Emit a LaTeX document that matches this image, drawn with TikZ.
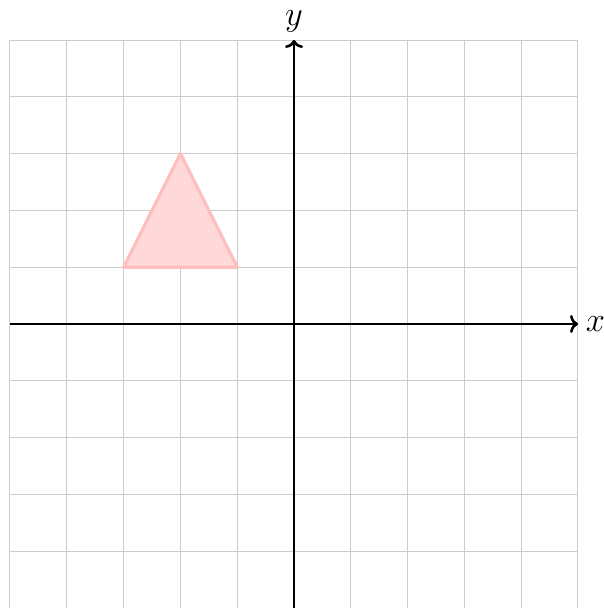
\documentclass[tikz,border=0pt]{standalone}
\usepackage{amsmath,amssymb}
\usepackage{tikz}
\usetikzlibrary{arrows.meta}

\begin{document}
\begin{tikzpicture}[
  gridline/.style={line width=0.5pt, draw=black!20},
  axis/.style={line width=1.3pt, -{To[length=4pt,width=9pt]}},
  lbl/.style={font=\LARGE},
  tri/.style={draw=red!25, fill=red!15, line width=1.6pt, line join=round}
]
  \useasboundingbox (-5.176,-5) rectangle (5.44,5.704);

  % Grid
  \draw[gridline] (-5,-5) grid (5,5);

  % Axes
  \coordinate (xmin) at (-5,0);
  \coordinate (xmax) at (5,0);
  \coordinate (ymin) at (0,-5);
  \coordinate (ymax) at (0,5);
  \draw[axis] (xmin) -- (xmax) node[lbl, right] (xlab) {$x$};
  \draw[axis] (ymin) -- (ymax) node[lbl, above] (ylab) {$y$};

  % Triangle
  \coordinate (A) at (-2,3);
  \coordinate (B) at (-3,1);
  \coordinate (C) at (-1,1);
  \draw[tri] (A) -- (B) -- (C) -- cycle;
\end{tikzpicture}
\end{document}
